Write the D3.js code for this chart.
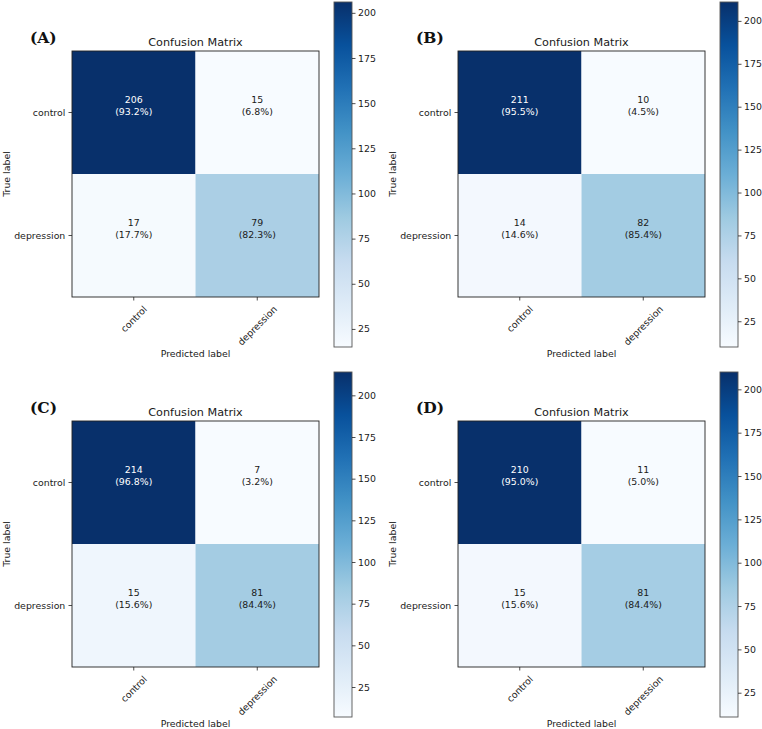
<!DOCTYPE html>
<html>
<head>
<meta charset="utf-8">
<script src="https://cdn.jsdelivr.net/npm/d3@7"></script>
<style>
  body { margin: 0; background: #fff; }
  text { font-family: "DejaVu Sans", sans-serif; fill: #1a1a1a; }
</style>
</head>
<body>
<div id="chart"></div>
<script>
var width = 762, height = 729;

// data
var classes = ["control", "depression"];
var panelLabels = ["(A)", "(B)", "(C)", "(D)"];
var cmA = [[206, 15], [17, 79]];
var cmB = [[211, 10], [14, 82]];
var cmC = [[214, 7], [15, 81]];
var cmD = [[210, 11], [15, 81]];
var cbarTicks = [25, 50, 75, 100, 125, 150, 175, 200];
// matplotlib "Blues" anchors
var blues = ["#f7fbff", "#deebf7", "#c6dbef", "#9ecae1", "#6baed6", "#4292c6", "#2171b5", "#08519c", "#08306b"];

var offsets = [[0, 0], [386, 0], [0, 370], [386, 370]];
var mLeft = 72, mRight = 319, mTop = 51, mBottom = 297;
var cbX = 334, cbW = 18, cbTop = 2, cbBottom = 347;
var fs = 9.4;

var svg = d3.select("#chart").append("svg")
  .attr("width", width)
  .attr("height", height);
var defs = svg.append("defs");

[cmA, cmB, cmC, cmD].forEach(function(cm, i) {
  var g = svg.append("g").attr("transform", "translate(" + offsets[i][0] + "," + offsets[i][1] + ")");
  drawPanel(g, cm, panelLabels[i], i);
});

function drawPanel(g, cm, label, idx) {
  var flat = [].concat.apply([], cm);
  var vmin = d3.min(flat), vmax = d3.max(flat);
  var color = d3.scaleLinear()
    .domain(blues.map(function(d, k) { return vmin + k * (vmax - vmin) / (blues.length - 1); }))
    .range(blues)
    .interpolate(d3.interpolateRgb);

  var x = d3.scaleBand().domain(classes).range([mLeft, mRight]);
  var y = d3.scaleBand().domain(classes).range([mTop, mBottom]);

  var cells = [];
  cm.forEach(function(row, r) {
    var sum = d3.sum(row);
    row.forEach(function(v, c) {
      cells.push({ r: classes[r], c: classes[c], v: v, p: v / sum * 100 });
    });
  });

  g.selectAll(".cell")
    .data(cells)
    .enter()
    .append("rect")
    .attr("x", function(d) { return x(d.c); })
    .attr("y", function(d) { return y(d.r); })
    .attr("width", x.bandwidth())
    .attr("height", y.bandwidth())
    .attr("fill", function(d) { return color(d.v); });

  var thresh = vmax / 2;
  var lab = g.selectAll(".lab")
    .data(cells)
    .enter()
    .append("g")
    .attr("transform", function(d) {
      return "translate(" + (x(d.c) + x.bandwidth() / 2) + "," + (y(d.r) + y.bandwidth() / 2) + ")";
    });
  lab.append("text")
    .attr("text-anchor", "middle")
    .attr("dominant-baseline", "central")
    .attr("y", -13.5)
    .attr("font-size", fs)
    .style("fill", function(d) { return d.v > thresh ? "#fff" : "#1a1a1a"; })
    .text(function(d) { return d.v; });
  lab.append("text")
    .attr("text-anchor", "middle")
    .attr("dominant-baseline", "central")
    .attr("y", -1)
    .attr("font-size", fs)
    .style("fill", function(d) { return d.v > thresh ? "#fff" : "#1a1a1a"; })
    .text(function(d) { return "(" + d.p.toFixed(1) + "%)"; });

  // frame
  g.append("rect")
    .attr("x", mLeft).attr("y", mTop)
    .attr("width", mRight - mLeft).attr("height", mBottom - mTop)
    .attr("fill", "none")
    .style("stroke", "#222")
    .style("stroke-width", 0.9);

  // y axis
  var ya = g.append("g")
    .attr("transform", "translate(" + mLeft + ",0)")
    .call(d3.axisLeft(y).tickSize(3.5).tickPadding(3.2));
  ya.select(".domain").remove();
  ya.selectAll("text").attr("font-size", fs).attr("font-family", "DejaVu Sans").style("fill", "#1a1a1a");
  ya.selectAll("line").style("stroke", "#222").style("stroke-width", 0.8);

  // x axis, labels turned 45 degrees round their centre
  var xa = g.append("g")
    .attr("transform", "translate(0," + mBottom + ")")
    .call(d3.axisBottom(x).tickSize(3.5).tickPadding(3.2));
  xa.select(".domain").remove();
  xa.selectAll("line").style("stroke", "#222").style("stroke-width", 0.8);
  xa.selectAll("text")
    .attr("font-size", fs)
    .attr("font-family", "DejaVu Sans")
    .style("fill", "#1a1a1a")
    .attr("text-anchor", "middle")
    .attr("dy", null)
    .attr("dominant-baseline", "central")
    .each(function() {
      var L = this.getComputedTextLength();
      var cy = 6.7 + (L + fs * 1.1) * Math.SQRT1_2 / 2;
      d3.select(this).attr("x", 0).attr("y", cy)
        .attr("transform", "rotate(-45,0," + cy + ")");
    });

  g.append("text")
    .attr("x", (mLeft + mRight) / 2)
    .attr("y", 353)
    .attr("text-anchor", "middle")
    .attr("dominant-baseline", "central")
    .attr("font-size", fs)
    .text("Predicted label");

  g.append("text")
    .attr("transform", "translate(6," + (mTop + mBottom) / 2 + ") rotate(-90)")
    .attr("text-anchor", "middle")
    .attr("dominant-baseline", "central")
    .attr("font-size", fs)
    .text("True label");

  g.append("text")
    .attr("x", (mLeft + mRight) / 2)
    .attr("y", 46)
    .attr("text-anchor", "middle")
    .attr("font-size", 11.2)
    .text("Confusion Matrix");

  g.append("text")
    .attr("x", 30)
    .attr("y", 43)
    .attr("font-family", "DejaVu Serif")
    .style("font-family", "DejaVu Serif, serif")
    .attr("font-weight", "bold")
    .attr("font-size", 15.5)
    .style("fill", "#111")
    .text(label);

  // colour bar
  var gid = "grad" + idx;
  var grad = defs.append("linearGradient")
    .attr("id", gid)
    .attr("x1", 0).attr("y1", 1).attr("x2", 0).attr("y2", 0);
  grad.selectAll("stop")
    .data(blues)
    .enter()
    .append("stop")
    .attr("offset", function(d, k) { return k / (blues.length - 1); })
    .attr("stop-color", function(d) { return d; });

  var cy = d3.scaleLinear().domain([vmin, vmax]).range([cbBottom, cbTop]);
  g.append("rect")
    .attr("x", cbX).attr("y", cbTop)
    .attr("width", cbW).attr("height", cbBottom - cbTop)
    .attr("fill", "url(#" + gid + ")")
    .style("stroke", "#555")
    .style("stroke-width", 0.9);

  var ca = g.append("g")
    .attr("transform", "translate(" + (cbX + cbW) + ",0)")
    .call(d3.axisRight(cy).tickValues(cbarTicks.filter(function(t) { return t >= vmin && t <= vmax; }))
      .tickSize(3.5).tickPadding(2.5));
  ca.select(".domain").remove();
  ca.selectAll("line").style("stroke", "#222").style("stroke-width", 0.8);
  ca.selectAll("text").attr("font-size", fs).attr("font-family", "DejaVu Sans").style("fill", "#1a1a1a");
}
</script>
</body>
</html>
